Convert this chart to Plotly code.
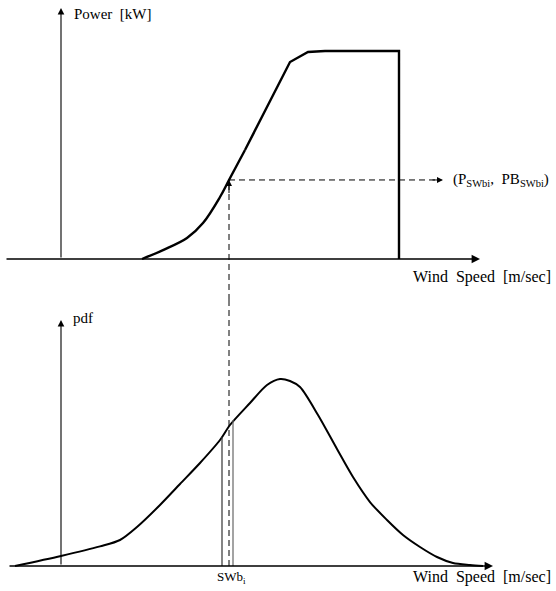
import plotly.graph_objects as go

# ---- data (wind speed in m/s, power in kW, pdf dimensionless) ----
power_ws = [4.05, 5.1, 6.3, 7.1, 7.95, 8.4, 9.2, 11.45, 12.35, 13.2, 16.9, 16.9]
power_kw = [0, 43, 101, 173, 298, 380, 524, 947, 995, 1000, 1000, 0]

pdf_ws = [-2.3, 0, 1.95, 2.95, 3.8, 4.95, 5.95, 6.95, 7.95, 8.45, 9.45, 10.3, 10.95,
          11.45, 11.95, 12.85, 13.8, 14.6, 15.45, 16.3, 17.1, 17.95, 18.8, 19.6, 20.45, 21.1]
pdf_val = [0, 0.005, 0.0098, 0.013, 0.0195, 0.0305, 0.0410, 0.0515, 0.063, 0.0705, 0.0815,
           0.0905, 0.0935, 0.0925, 0.0895, 0.0755, 0.0585, 0.0445, 0.032, 0.023, 0.0155,
           0.0095, 0.0045, 0.0015, 0.0005, 0]

swb_i = 8.4          # selected wind speed bin centre
p_swb = 380          # power at that wind speed
bin_edges = [8.05, 8.6]
bin_tops = [0.0645, 0.073]

x_range = [-3.05, 24.75]
top_range = [-197.1, 1245.2]
bot_range = [-0.0125, 0.133]

font_family = "Liberation Serif"
black = "#000000"

fig = go.Figure()

# power curve: smooth lower part, straight upper part
fig.add_trace(go.Scatter(x=power_ws[:7], y=power_kw[:7], mode="lines", line_shape="spline",
                         line=dict(color=black, width=2.4), xaxis="x", yaxis="y",
                         hoverinfo="skip"))
fig.add_trace(go.Scatter(x=power_ws[6:], y=power_kw[6:], mode="lines",
                         line=dict(color=black, width=2.4), xaxis="x", yaxis="y",
                         hoverinfo="skip"))
# pdf curve
fig.add_trace(go.Scatter(x=pdf_ws, y=pdf_val, mode="lines",
                         line=dict(color=black, width=2, shape="spline", smoothing=0.8),
                         xaxis="x2", yaxis="y2", hoverinfo="skip"))
# bin edges
for xe, yt, col in zip(bin_edges, bin_tops, ["#333333", "#666666"]):
    fig.add_trace(go.Scatter(x=[xe, xe], y=[0, yt], mode="lines",
                             line=dict(color=col, width=1.2), xaxis="x2", yaxis="y2",
                             hoverinfo="skip"))
# dashed vertical connector (bottom and top panels)
fig.add_trace(go.Scatter(x=[swb_i, swb_i], y=[0, bot_range[1]], mode="lines",
                         line=dict(color=black, width=1, dash="6px,4px"),
                         xaxis="x2", yaxis="y2", hoverinfo="skip"))
fig.add_trace(go.Scatter(x=[swb_i, swb_i], y=[top_range[0], p_swb], mode="lines",
                         line=dict(color=black, width=1, dash="6px,4px"),
                         xaxis="x", yaxis="y", hoverinfo="skip"))
# dashed horizontal connector
fig.add_trace(go.Scatter(x=[swb_i, 19.0], y=[p_swb, p_swb], mode="lines",
                         line=dict(color=black, width=1, dash="6px,4px"),
                         xaxis="x", yaxis="y", hoverinfo="skip"))

ann = []
def arrow(x, y, ax, ay, xr, yr, width=1.2):
    ann.append(dict(x=x, y=y, ax=ax, ay=ay, xref=xr, yref=yr, axref=xr, ayref=yr,
                    text="", showarrow=True, arrowhead=2, arrowsize=1.2,
                    arrowwidth=width, arrowcolor=black))

# axes with arrows
arrow(0, 1207, 0, 0, "x", "y", 1.1)
arrow(20.95, 0, -2.8, 0, "x", "y", 1.4)
arrow(0, 0.123, 0, 0, "x2", "y2", 1.1)
arrow(21.6, 0, -2.65, 0, "x2", "y2", 1.4)
# arrow heads on connectors
arrow(19.1, p_swb, 18.5, p_swb, "x", "y", 1)
arrow(swb_i, p_swb, swb_i, p_swb - 70, "x", "y", 1)

def label(text, x, y, xr, yr, anchor, size=15):
    ann.append(dict(x=x, y=y, xref=xr, yref=yr, text=text, showarrow=False,
                    xanchor=anchor, yanchor="middle",
                    font=dict(family=font_family, size=size, color=black)))

label("Power  [kW]", 0.55, 1178, "x", "y", "left")
label("Wind  Speed  [m/sec]", 24.6, -86.5, "x", "y", "right", 16)
label("(P<sub>SWbi</sub>,  PB<sub>SWbi</sub>)", 19.5, p_swb, "x", "y", "left")
label("pdf", 0.5, 0.124, "x2", "y2", "left")
label("Wind  Speed  [m/sec]", 24.6, -0.0055, "x2", "y2", "right", 16)
label("SWb<sub>i</sub>", 8.5, -0.0055, "x2", "y2", "center", 13)

ax_common = dict(visible=False, showgrid=False, zeroline=False, fixedrange=True)
fig.update_layout(
    width=556, height=591, margin=dict(l=0, r=0, t=0, b=0),
    paper_bgcolor="white", plot_bgcolor="white", showlegend=False,
    xaxis=dict(range=x_range, domain=[0, 1], anchor="y", **ax_common),
    yaxis=dict(range=top_range, domain=[0.4924, 1], anchor="x", **ax_common),
    xaxis2=dict(range=x_range, domain=[0, 1], anchor="y2", **ax_common),
    yaxis2=dict(range=bot_range, domain=[0, 0.4924], anchor="x2", **ax_common),
    annotations=ann,
)

fig.write_html("out.html", config={"displayModeBar": False},
               post_script="document.body.style.margin='0px';document.body.style.overflow='hidden';")
